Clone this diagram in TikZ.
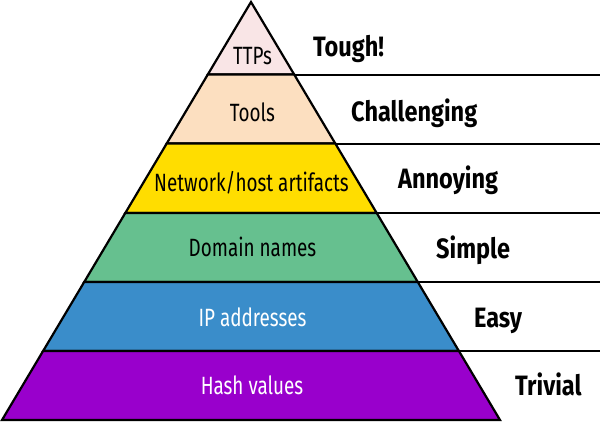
\documentclass[tikz,border=0pt]{standalone}
\usepackage{fontspec}
\setmainfont{Fira Sans}
\newfontfamily\innerfont[FakeStretch=0.755]{Fira Sans}
\newfontfamily\sidefont[FakeStretch=0.84]{Fira Sans}
\definecolor{cTTP}{HTML}{F9E5E6}
\definecolor{cTools}{HTML}{FCDFC0}
\definecolor{cNet}{HTML}{FFDD00}
\definecolor{cDom}{HTML}{66C08F}
\definecolor{cIP}{HTML}{3A8DCA}
\definecolor{cHash}{HTML}{9900CC}
\newcommand{\lx}[1]{{251-0.5957*(#1-2)}}
\newcommand{\rx}[1]{{251+0.5957*(#1-2)}}
\begin{document}
\begin{tikzpicture}[x=1pt,y=-1pt,
  layerbox/.style={line width=2.2pt,line join=miter},
  inlabel/.style={anchor=base,font=\innerfont\fontsize{25}{28}\selectfont,inner sep=0pt},
  sidelabel/.style={anchor=base west,font=\sidefont\bfseries\fontsize{28}{31}\selectfont,inner sep=0pt},
  rule/.style={line width=2pt}]
\useasboundingbox (0,0) rectangle (600,423);
% layers
\filldraw[layerbox,fill=cTTP] (251,2) -- (\rx{74.5},74.5) -- (\lx{74.5},74.5) -- cycle;
\filldraw[layerbox,fill=cTools] (\lx{74.5},74.5) -- (\rx{74.5},74.5) -- (\rx{143.5},143.5) -- (\lx{143.5},143.5) -- cycle;
\filldraw[layerbox,fill=cNet] (\lx{143.5},143.5) -- (\rx{143.5},143.5) -- (\rx{213},213) -- (\lx{213},213) -- cycle;
\filldraw[layerbox,fill=cDom] (\lx{213},213) -- (\rx{213},213) -- (\rx{282},282) -- (\lx{282},282) -- cycle;
\filldraw[layerbox,fill=cIP] (\lx{282},282) -- (\rx{282},282) -- (\rx{351},351) -- (\lx{351},351) -- cycle;
\filldraw[layerbox,fill=cHash] (\lx{351},351) -- (\rx{351},351) -- (\rx{420},420) -- (\lx{420},420) -- cycle;
% horizontal rules to the right
\foreach \y in {74.5,143.5,213,282,351}
  \draw[rule] (\rx{\y},\y) -- (600,\y);
% inner labels
\node[inlabel] (ttp) at (252.5,64.3) {TTPs};
\node[inlabel] (tools) at (252.5,121.7) {Tools};
\node[inlabel] (net) at (251.5,191.7) {Network/host artifacts};
\node[inlabel] (dom) at (252.5,256.7) {Domain names};
\node[inlabel,text=white] (ip) at (252.5,326.7) {IP addresses};
\node[inlabel,text=white] (hash) at (252,394.7) {Hash values};
% side labels
\node[sidelabel] (tough) at (313,56) {Tough!};
\node[sidelabel] (chal) at (351,121) {Challenging};
\node[sidelabel] (ann) at (398,188.3) {Annoying};
\node[sidelabel] (simp) at (436,258.3) {Simple};
\node[sidelabel] (easy) at (474,327) {Easy};
\node[sidelabel] (triv) at (515,395) {Trivial};
\end{tikzpicture}
\end{document}
